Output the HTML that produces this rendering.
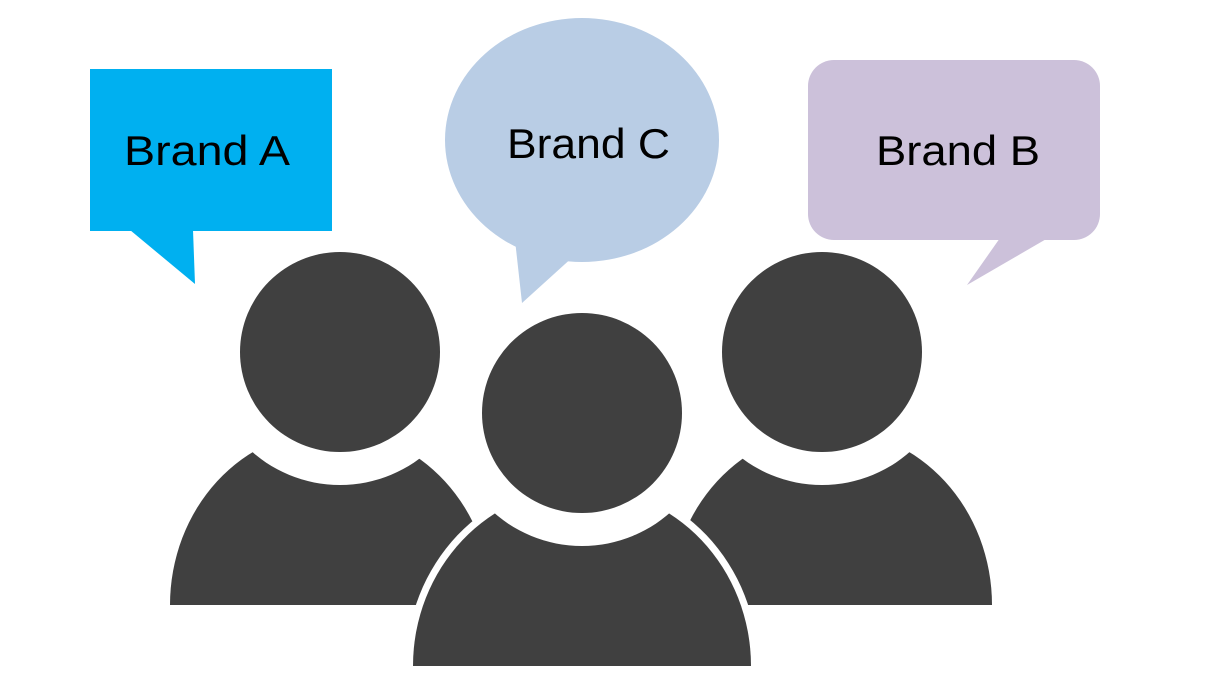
<!DOCTYPE html>
<html><head><meta charset="utf-8"><style>
html,body{margin:0;padding:0;background:#fff;width:1206px;height:682px;overflow:hidden;}
svg{display:block;}
text{font-family:"Liberation Sans",sans-serif;font-size:42px;fill:#000;}
</style></head><body>
<svg width="1206" height="682" viewBox="0 0 1206 682">
<rect width="1206" height="682" fill="#fff"/>
<!-- side bodies -->
<clipPath id="cb"><rect x="0" y="0" width="1206" height="605"/></clipPath>
<g clip-path="url(#cb)" fill="#404040">
<ellipse cx="331" cy="605" rx="161" ry="175"/>
<ellipse cx="831" cy="605" rx="161" ry="175"/>
</g>
<circle cx="340" cy="352" r="133" fill="#fff"/>
<circle cx="822" cy="352" r="133" fill="#fff"/>
<circle cx="340" cy="352" r="100" fill="#404040"/>
<circle cx="822" cy="352" r="100" fill="#404040"/>
<!-- center person -->
<clipPath id="cc"><rect x="0" y="0" width="1206" height="666"/></clipPath>
<g clip-path="url(#cc)">
<ellipse cx="582" cy="666" rx="176" ry="185" fill="#fff"/>
<ellipse cx="582" cy="666" rx="169" ry="178" fill="#404040"/>
</g>
<circle cx="582" cy="413" r="133" fill="#fff"/>
<circle cx="582" cy="413" r="100" fill="#404040"/>
<!-- bubbles -->
<rect x="90" y="69" width="242" height="162" fill="#00b0f0"/>
<polygon points="130,230 195,284 193,230" fill="#00b0f0"/>
<text x="124" y="165" textLength="166" lengthAdjust="spacingAndGlyphs">Brand A</text>
<ellipse cx="582" cy="140" rx="137" ry="122" fill="#b9cde5"/>
<polygon points="515,240 522,303 575,255" fill="#b9cde5"/>
<text x="507" y="158" textLength="163" lengthAdjust="spacingAndGlyphs">Brand C</text>
<rect x="808" y="60" width="292" height="180" rx="26" fill="#ccc1da"/>
<polygon points="1000,238 967,285 1048,238" fill="#ccc1da"/>
<text x="876" y="165" textLength="164" lengthAdjust="spacingAndGlyphs">Brand B</text>
</svg>
</body></html>
